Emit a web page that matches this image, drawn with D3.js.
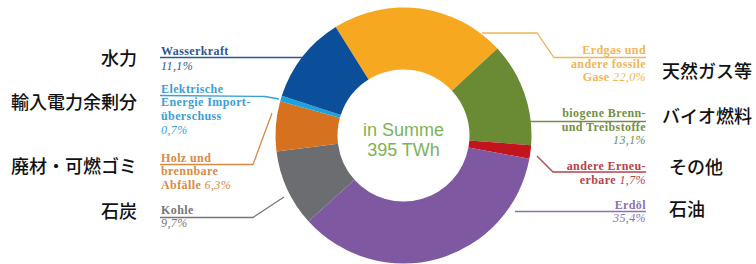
<!DOCTYPE html>
<html><head><meta charset="utf-8">
<script src="https://cdn.jsdelivr.net/npm/d3@7"></script>
<style>
html,body{margin:0;padding:0;background:#fff;}
svg{display:block;}
.de{font-family:"Liberation Serif","DejaVu Serif",serif;font-weight:bold;font-size:12px;letter-spacing:0.4px;}
.ja{font-family:"Noto Sans CJK JP","Noto Sans",sans-serif;font-size:18px;font-weight:500;fill:#111;}
.center{font-family:"Liberation Sans",Arial,sans-serif;font-size:18px;fill:#7DB356;}
</style>
</head><body>
<script>
// ---- data ----
const categories = ["Erdgas und\nandere fossile\nGase", "biogene Brenn-\nund Treibstoffe", "andere Erneu-\nerbare", "Erdöl", "Kohle", "Holz und\nbrennbare\nAbfälle", "Elektrische\nEnergie Import-\nüberschuss", "Wasserkraft"];
const values = [22.0, 13.1, 1.7, 35.4, 9.7, 6.3, 0.7, 11.1];
const japaneseLabels = ["天然ガス等", "バイオ燃料", "その他", "石油", "石炭", "廃材・可燃ゴミ", "輸入電力余剰分", "水力"];
const totalLabel = ["in Summe", "395 TWh"];

// ---- styles / layout ----
const sliceColors = ["#F5A820", "#6A8A34", "#C2141D", "#7E58A0", "#6C6D70", "#D6721F", "#1DA2E0", "#0B4F9B"];
const textColors  = ["#F0B555", "#738F45", "#B8424A", "#8A72AE", "#767676", "#D88A44", "#3A9ED6", "#2B5798"];
const layout = [
  {side:"R", x:646, y:54,   lh:13.5, pctOwn:false, line:[[482,33],[537,33],[554,57.5],[646,57.5]], jx:662, jy:78},
  {side:"R", x:646, y:117,  lh:13.5, pctOwn:true,  line:[[530,121.5],[646,121.5]], jx:662, jy:123},
  {side:"R", x:646, y:170,  lh:14,   pctOwn:false, line:[[537,156],[553,172],[646,172]], jx:669, jy:174},
  {side:"R", x:646, y:208.5,lh:13.5, pctOwn:true,  line:[[515,211.5],[646,211.5]], jx:669, jy:216},
  {side:"L", x:161, y:213.5,lh:13.5, pctOwn:true,  line:[[160,217.5],[253,217.5],[284,197]], jx:137, jy:218},
  {side:"L", x:161, y:161.5,lh:13.5, pctOwn:false, line:[[160,164.5],[253,164.5],[272,113]], jx:137, jy:173},
  {side:"L", x:161, y:92.5, lh:13.7, pctOwn:true,  line:[[160,95.5],[265,96.5],[279,99]], jx:137, jy:109},
  {side:"L", x:161, y:55,   lh:15,   pctOwn:true,  line:[[160,57.5],[302,57.5]], jx:137, jy:65}
];

const W = 756, H = 264;
const cx = 403.5, cy = 135.5, R = 128, r = 66;

const svg = d3.select("body").append("svg").attr("width", W).attr("height", H);

const pie = d3.pie().sort(null).value(d => d)
  .startAngle(-32 * Math.PI / 180).endAngle(-32 * Math.PI / 180 + 2 * Math.PI);
const arc = d3.arc().innerRadius(r).outerRadius(R);

const g = svg.append("g").attr("transform", `translate(${cx},${cy})`);
g.selectAll("path").data(pie(values)).join("path")
  .attr("d", arc).attr("fill", (d, i) => sliceColors[i]);

svg.append("text").attr("class", "center").attr("x", cx).attr("y", cy)
  .attr("text-anchor", "middle").text(totalLabel[0]);
svg.append("text").attr("class", "center").attr("x", cx).attr("y", cy + 20)
  .attr("text-anchor", "middle").text(totalLabel[1]);

const fmt = v => d3.format(".1f")(v).replace(".", ",") + "%";
const lineGen = d3.line();

categories.forEach((cat, i) => {
  const L = layout[i];
  svg.append("path").attr("d", lineGen(L.line)).attr("fill", "none")
    .attr("stroke", textColors[i]).attr("stroke-width", 1.3);
  const anchor = L.side === "R" ? "end" : "start";
  const lines = cat.split("\n");
  const t = svg.append("text").attr("class", "de").attr("fill", textColors[i])
    .attr("text-anchor", anchor);
  lines.forEach((ln, k) => {
    t.append("tspan").attr("x", L.x).attr("y", L.y + k * L.lh).text(ln);
    if (!L.pctOwn && k === lines.length - 1) {
      t.append("tspan").attr("font-style", "italic").attr("font-weight", "normal").text(" " + fmt(values[i]));
    }
  });
  if (L.pctOwn) {
    t.append("tspan").attr("x", L.x).attr("y", L.y + lines.length * L.lh)
      .attr("font-style", "italic").attr("font-weight", "normal").text(fmt(values[i]));
  }
  svg.append("text").attr("class", "ja").attr("x", L.jx).attr("y", L.jy)
    .attr("text-anchor", L.side === "R" ? "start" : "end").text(japaneseLabels[i]);
});
</script>
</body></html>
